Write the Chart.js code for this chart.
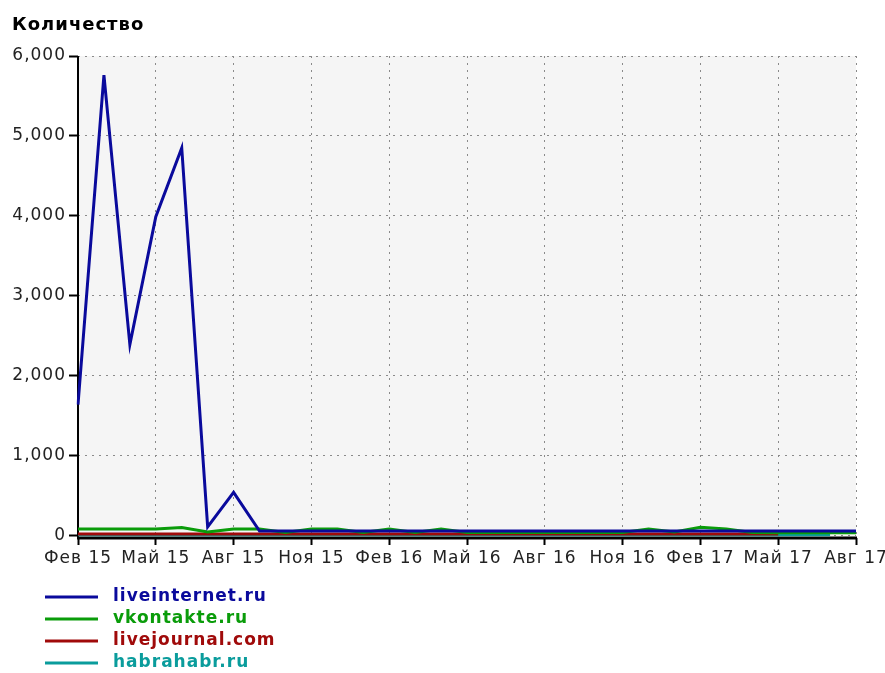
<!DOCTYPE html>
<html>
<head>
<meta charset="utf-8">
<script src="https://cdn.jsdelivr.net/npm/chart.js@4.4.1/dist/chart.umd.min.js"></script>
<style>
  html, body { margin: 0; padding: 0; background: #fff; }
</style>
</head>
<body>
<canvas id="chart" width="885" height="673"></canvas>
<script>
const months = ["Фев 15", "Мар 15", "Апр 15", "Май 15", "Июн 15", "Июл 15", "Авг 15", "Сен 15", "Окт 15", "Ноя 15", "Дек 15",
  "Янв 16", "Фев 16", "Мар 16", "Апр 16", "Май 16", "Июн 16", "Июл 16", "Авг 16", "Сен 16", "Окт 16", "Ноя 16", "Дек 16",
  "Янв 17", "Фев 17", "Мар 17", "Апр 17", "Май 17", "Июн 17", "Июл 17", "Авг 17"];
const yTicks = [0, 1000, 2000, 3000, 4000, 5000, 6000];

const liveinternet = [1640, 5760, 2390, 3990, 4850, 110, 540, 58, 58, 58, 58, 58, 58, 58, 58, 58,
  58, 58, 58, 58, 58, 58, 58, 58, 58, 58, 58, 58, 58, 58, 58];
const vkontakte = [83, 83, 83, 83, 100, 45, 83, 83, 40, 83, 83, 40, 83, 40, 83, 40,
  40, 40, 40, 40, 40, 40, 83, 45, 105, 83, 40, 35, 35, 35, 35];
const livejournal = [20, 20, 20, 20, 20, 20, 20, 20, 20, 20, 20, 20, 20, 20, 20, 20,
  20, 20, 20, 20, 20, 20, 20, 20, 20, 20, 20, 20, null, null, null];
const habrahabr = [10, 10, 10, 10, 10, 10, 10, 10, 10, 10, 10, 10, 10, 10, 10, 10,
  10, 10, 10, 10, 10, 10, 10, 10, 10, 10, 10, 10, 10, 10, null];

const seriesNames = ["liveinternet.ru", "vkontakte.ru", "livejournal.com", "habrahabr.ru"];
const seriesColors = ["#0a0a9c", "#0a9c0a", "#a00a0a", "#0a9c9c"];

// grey plot background, plus the slightly spaced lettering of the original
const plotBg = {
  id: "plotBg",
  beforeDraw(chart) {
    const { ctx, chartArea: a } = chart;
    ctx.letterSpacing = "1px";
    ctx.save();
    ctx.fillStyle = "#f5f5f5";
    ctx.fillRect(a.left, a.top, a.right - a.left, a.bottom - a.top);
    ctx.restore();
  }
};

// solid black axis lines (the dotted dash setting would otherwise hit them too)
const axisLines = {
  id: "axisLines",
  beforeDatasetsDraw(chart) {
    const { ctx, chartArea: a } = chart;
    ctx.save();
    ctx.strokeStyle = "#000";
    ctx.lineWidth = 2;
    ctx.beginPath();
    ctx.moveTo(a.left, a.top);
    ctx.lineTo(a.left, a.bottom);
    ctx.stroke();
    ctx.lineWidth = 3;
    ctx.beginPath();
    ctx.moveTo(a.left - 1, a.bottom);
    ctx.lineTo(a.right + 1, a.bottom);
    ctx.stroke();
    ctx.restore();
  }
};

// vertical legend under the chart, text in series colour
const listLegend = {
  id: "listLegend",
  afterDraw(chart) {
    const ctx = chart.ctx;
    ctx.save();
    chart.data.datasets.forEach((ds, i) => {
      const y = 597 + i * 22;
      ctx.strokeStyle = ds.borderColor;
      ctx.lineWidth = 3;
      ctx.beginPath();
      ctx.moveTo(45, y);
      ctx.lineTo(98, y);
      ctx.stroke();
      ctx.font = "bold 17px 'DejaVu Sans'";
      ctx.letterSpacing = "1px";
      ctx.fillStyle = ds.borderColor;
      ctx.textBaseline = "middle";
      ctx.fillText(ds.label, 113, y);
    });
    ctx.restore();
  }
};

const sets = [liveinternet, vkontakte, livejournal, habrahabr];

new Chart(document.getElementById("chart"), {
  type: "line",
  data: {
    labels: months,
    datasets: sets.map((d, i) => ({
      label: seriesNames[i],
      data: d,
      borderColor: seriesColors[i],
      backgroundColor: seriesColors[i],
      borderWidth: 3,
      pointRadius: 0,
      tension: 0,
      fill: false
    }))
  },
  options: {
    responsive: false,
    animation: false,
    layout: { padding: { left: 12, right: 29, top: 0, bottom: 101 } },
    plugins: {
      legend: { display: false },
      tooltip: { enabled: false },
      title: {
        display: true,
        text: "Количество",
        align: "start",
        color: "#000",
        font: { family: "DejaVu Sans", size: 18, weight: "bold" },
        padding: { top: 15, bottom: 19.4 }
      }
    },
    scales: {
      x: {
        ticks: {
          autoSkip: false,
          maxRotation: 0,
          padding: 3,
          color: "#222",
          font: { family: "DejaVu Sans", size: 17 },
          callback: (v, i) => (i % 3 === 0 ? months[i] : "")
        },
        grid: {
          color: (c) => (c.index % 3 === 0 ? "#8a8a8a" : "rgba(0,0,0,0)"),
          tickColor: (c) => (c.index % 3 === 0 ? "#000" : "rgba(0,0,0,0)"),
          lineWidth: 1,
          tickLength: 7,
          tickWidth: 2
        },
        border: { display: false, dash: [2, 5] },
        afterFit(scale) {
          scale.height = 34;
          scale.paddingLeft = 0;
          scale.paddingRight = 0;
        }
      },
      y: {
        min: -30,
        max: 6000,
        afterBuildTicks(scale) {
          scale.ticks = yTicks.map((v) => ({ value: v }));
        },
        ticks: {
          padding: 3,
          color: "#222",
          font: { family: "DejaVu Sans", size: 17 },
          callback: (v) => v.toLocaleString("en-US")
        },
        grid: {
          color: "#8a8a8a",
          lineWidth: 1,
          tickColor: "#000",
          tickLength: 9,
          tickWidth: 2
        },
        border: { display: false, dash: [2, 5] },
        afterFit(scale) {
          scale.width = 66;
        }
      }
    }
  },
  plugins: [plotBg, axisLines, listLegend]
});
</script>
</body>
</html>
